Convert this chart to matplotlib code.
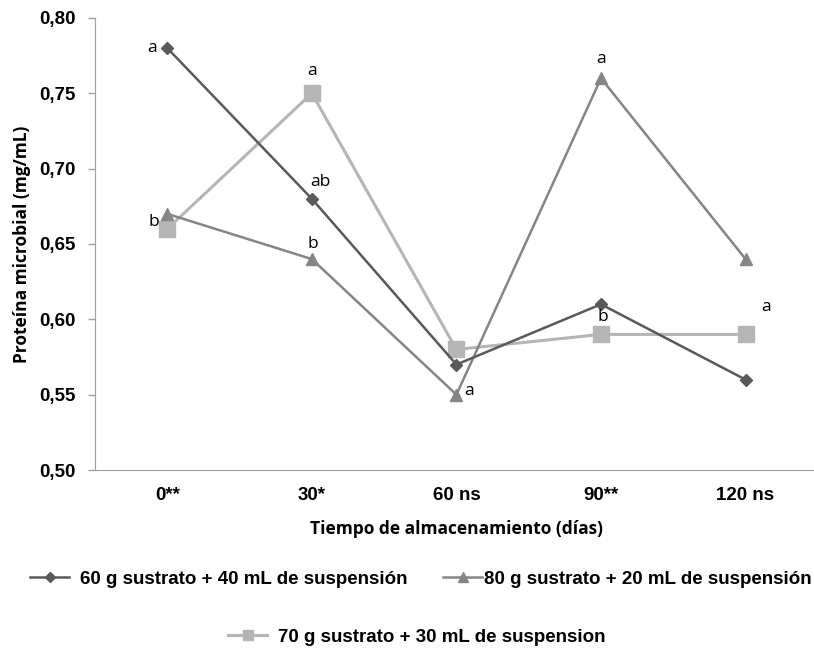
import matplotlib
matplotlib.use("Agg")
from matplotlib import pyplot as plt
from matplotlib.lines import Line2D

dias = ["0**", "30*", "60 ns", "90**", "120 ns"]

serie60 = [0.78, 0.68, 0.57, 0.61, 0.56]
serie80 = [0.67, 0.64, 0.55, 0.76, 0.64]
serie70 = [0.66, 0.75, 0.58, 0.59, 0.59]

letras60 = ["a", "ab", "", "b", ""]
letras80 = ["", "b", "a", "a", ""]
letras70 = ["b", "a", "", "", "a"]

nombre60 = "60 g sustrato + 40 mL de suspensión"
nombre80 = "80 g sustrato + 20 mL de suspensión"
nombre70 = "70 g sustrato + 30 mL de suspension"

yticks = [0.50, 0.55, 0.60, 0.65, 0.70, 0.75, 0.80]

col60 = "#595959"
col80 = "#858585"
col70 = "#b5b5b5"

fig = plt.figure(figsize=(8.14, 6.51), dpi=100)
ax = fig.add_axes([0.1167, 0.278, 0.888, 0.6944])

x = list(range(len(dias)))
ax.plot(x, serie60, color=col60, linewidth=1.8, marker="D", markersize=6.5, zorder=4)
ax.plot(x, serie80, color=col80, linewidth=1.8, marker="^", markersize=9, zorder=3)
ax.plot(x, serie70, color=col70, linewidth=2.2, marker="s", markersize=12, zorder=2)

# letras de significancia (desplazamiento en puntos)
offs60 = [(-11, 0), (6, 12), (0, 0), (1, -9), (0, 0)]
offs80 = [(0, 0), (1, 11), (9, 3), (0, 14), (0, 0)]
offs70 = [(-10, 5), (0, 16), (0, 0), (0, 0), (15, 20)]
for vals, letras, offs in [(serie60, letras60, offs60),
                           (serie80, letras80, offs80),
                           (serie70, letras70, offs70)]:
    for i in range(len(vals)):
        if letras[i]:
            ax.annotate(letras[i], (x[i], vals[i]), xytext=offs[i],
                        textcoords="offset points", ha="center", va="center",
                        fontsize=12.5, color="black", family="Open Sans", zorder=6)

ax.set_xlim(-0.5, 4.5)
ax.set_ylim(0.5, 0.8)
ax.set_xticks(x)
ax.set_xticklabels(dias, fontsize=13.5, fontweight="bold", family="Liberation Sans")
ax.set_yticks(yticks)
ax.set_yticklabels([("%.2f" % v).replace(".", ",") for v in yticks],
                   fontsize=13.5, fontweight="bold", family="Liberation Sans")
ax.tick_params(axis="x", length=0, pad=12)
ax.tick_params(axis="y", length=5, color="#a0a0a0", width=1, pad=9)
ax.spines["top"].set_visible(False)
ax.spines["right"].set_visible(False)
ax.spines["left"].set_color("#a0a0a0")
ax.spines["bottom"].set_color("#a0a0a0")

ax.set_xlabel("Tiempo de almacenamiento (días)", fontsize=12.5, fontweight="bold",
              family="Open Sans", labelpad=12)
ax.set_ylabel("Proteína microbial (mg/mL)", fontsize=12.5, fontweight="bold",
              family="Open Sans", labelpad=6)

fuente_ley = {"family": "Liberation Sans", "weight": "bold", "size": 13.5}
h60 = Line2D([], [], color=col60, linewidth=1.8, marker="D", markersize=5)
h80 = Line2D([], [], color=col80, linewidth=1.8, marker="^", markersize=7)
h70 = Line2D([], [], color=col70, linewidth=2.2, marker="s", markersize=7)

for h, nombre, pos, pad in [(h60, nombre60, (0.037, 0.097), 0.55),
                            (h80, nombre80, (0.544, 0.097), 0.1),
                            (h70, nombre70, (0.28, 0.008), 0.55)]:
    fig.legend([h], [nombre], loc="lower left", bbox_to_anchor=pos,
               frameon=False, prop=fuente_ley, handlelength=2.1,
               handletextpad=pad, borderpad=0, borderaxespad=0)

fig.savefig("out.png", dpi=100)
